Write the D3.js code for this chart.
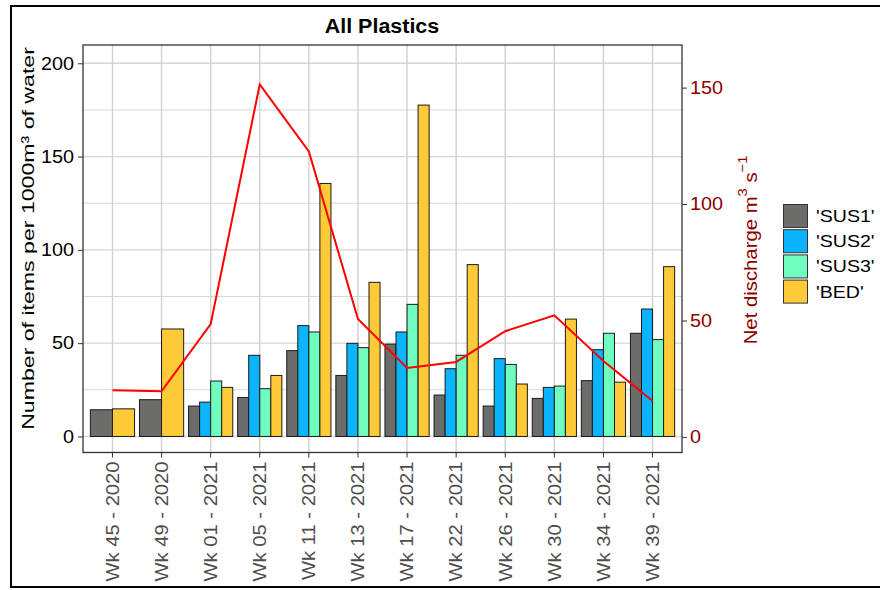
<!DOCTYPE html>
<html>
<head>
<meta charset="utf-8">
<script src="https://cdn.jsdelivr.net/npm/d3@7"></script>
<style>
  body { margin: 0; background: #fff; }
  svg text { font-family: "Liberation Sans", Arial, sans-serif; }
</style>
</head>
<body>
<svg id="chart" width="880" height="590"></svg>
<script>
// Sampling weeks
const weeks = ["Wk 45 - 2020", "Wk 49 - 2020", "Wk 01 - 2021", "Wk 05 - 2021", "Wk 11 - 2021",
  "Wk 13 - 2021", "Wk 17 - 2021", "Wk 22 - 2021", "Wk 26 - 2021", "Wk 30 - 2021",
  "Wk 34 - 2021", "Wk 39 - 2021"];

// Items per 1000 m3 of water at each sampling depth (null = not sampled)
const sus1 = [14.3, 19.7, 16.3, 20.9, 46.0, 32.7, 49.5, 22.2, 16.3, 20.4, 29.9, 55.3];
const sus2 = [null, null, 18.4, 43.5, 59.4, 49.9, 56.0, 36.3, 41.7, 26.3, 46.5, 68.3];
const sus3 = [null, null, 29.7, 25.6, 56.0, 47.6, 70.8, 43.5, 38.6, 27.0, 55.3, 51.9];
const bed  = [14.8, 57.6, 26.3, 32.7, 135.6, 82.6, 177.6, 92.1, 28.1, 62.9, 29.1, 91.0];

// Net discharge, m3/s
const discharge = [20.0, 19.6, 48.4, 151.4, 122.6, 50.6, 29.6, 32.2, 45.4, 52.2, 32.6, 15.4];

const seriesNames = ["'SUS1'", "'SUS2'", "'SUS3'", "'BED'"];
const seriesValues = [sus1, sus2, sus3, bed];
const seriesColors = ["#6c6c6a", "#0bb4fd", "#70fec0", "#ffca38"];

const leftTicks = [0, 50, 100, 150, 200];
const leftMinor = [25, 75, 125, 175];
const rightTicks = [0, 50, 100, 150];

// widen glyphs of plain text elements by factor k (keeps the anchor in place)
function widen(sel, k) {
  sel.each(function () {
    const w = this.getComputedTextLength();
    this.setAttribute("textLength", (w * k).toFixed(2));
    this.setAttribute("lengthAdjust", "spacingAndGlyphs");
  });
}

const svg = d3.select("#chart");
svg.append("rect").attr("width", 880).attr("height", 590).attr("fill", "#fff");

// outer frame
svg.append("rect")
  .attr("x", 11).attr("y", 6).attr("width", 880).attr("height", 581)
  .attr("fill", "none").attr("stroke", "#000").attr("stroke-width", 2);

const panel = { left: 83, right: 682, top: 45, bottom: 452.5 };

const x = d3.scaleBand().domain(weeks)
  .range([panel.left, panel.right]).paddingInner(0).paddingOuter(0.1);
const yL = d3.scaleLinear().domain([-8.6, 209.8]).range([panel.bottom, panel.top]);
const yR = d3.scaleLinear().domain([-6.7, 168.3]).range([panel.bottom, panel.top]);

const g = svg.append("g");

// grid
g.selectAll(".minor").data(leftMinor).join("line")
  .attr("x1", panel.left).attr("x2", panel.right)
  .attr("y1", d => yL(d)).attr("y2", d => yL(d))
  .attr("stroke", "#d2d2d2").attr("stroke-width", 0.9);
g.selectAll(".major").data(leftTicks).join("line")
  .attr("x1", panel.left).attr("x2", panel.right)
  .attr("y1", d => yL(d)).attr("y2", d => yL(d))
  .attr("stroke", "#d6d6d6").attr("stroke-width", 1.4);
g.selectAll(".vgrid").data(weeks).join("line")
  .attr("x1", d => x(d) + x.bandwidth() / 2).attr("x2", d => x(d) + x.bandwidth() / 2)
  .attr("y1", panel.top).attr("y2", panel.bottom)
  .attr("stroke", "#d0d0d0").attr("stroke-width", 1.4);

// dodged bars; width shared among the depths sampled that week
const groupW = x.bandwidth() * 0.9;
weeks.forEach((wk, i) => {
  const present = seriesValues.map((vals, s) => ({ s, v: vals[i] })).filter(d => d.v != null);
  const inner = d3.scaleBand().domain(present.map(d => d.s))
    .range([x(wk) + (x.bandwidth() - groupW) / 2, x(wk) + (x.bandwidth() + groupW) / 2]);
  g.selectAll(null).data(present).join("rect")
    .attr("x", d => inner(d.s))
    .attr("width", inner.bandwidth())
    .attr("y", d => yL(d.v))
    .attr("height", d => yL(0) - yL(d.v))
    .attr("fill", d => seriesColors[d.s])
    .attr("stroke", "#1a1a1a").attr("stroke-width", 1);
});

// discharge line
const line = d3.line()
  .x((d, i) => x(weeks[i]) + x.bandwidth() / 2)
  .y(d => yR(d));
g.append("path").datum(discharge)
  .attr("d", line).attr("fill", "none")
  .attr("stroke", "#ff0000").attr("stroke-width", 2);

// panel border
svg.append("rect")
  .attr("x", panel.left).attr("y", panel.top)
  .attr("width", panel.right - panel.left).attr("height", panel.bottom - panel.top)
  .attr("fill", "none").attr("stroke", "#333").attr("stroke-width", 1.3);

// left axis
const axL = svg.append("g").attr("transform", `translate(${panel.left},0)`)
  .call(d3.axisLeft(yL).tickValues(leftTicks).tickSize(5).tickPadding(4));
axL.select(".domain").remove();
axL.selectAll(".tick line").attr("stroke", "#333");
axL.selectAll(".tick text").attr("fill", "#000").style("font-size", "18px")
  .style("font-family", "'Liberation Sans', Arial, sans-serif");
widen(axL.selectAll(".tick text"), 1.1);

// right axis
const axR = svg.append("g").attr("transform", `translate(${panel.right},0)`)
  .call(d3.axisRight(yR).tickValues(rightTicks).tickSize(5).tickPadding(3));
axR.select(".domain").remove();
axR.selectAll(".tick line").attr("stroke", "#333");
axR.selectAll(".tick text").attr("fill", "#8b0000").style("font-size", "18px")
  .style("font-family", "'Liberation Sans', Arial, sans-serif");
widen(axR.selectAll(".tick text"), 1.1);

// bottom axis
const axB = svg.append("g").attr("transform", `translate(0,${panel.bottom})`)
  .call(d3.axisBottom(x).tickSize(5).tickPadding(4));
axB.select(".domain").remove();
axB.selectAll(".tick line").attr("stroke", "#333");
axB.selectAll(".tick text")
  .attr("fill", "#4d4d4d").style("font-size", "18px")
  .style("font-family", "'Liberation Sans', Arial, sans-serif")
  .attr("text-anchor", "end")
  .attr("transform", "rotate(-90)")
  .attr("x", -9).attr("y", 0).attr("dy", "0.35em");
widen(axB.selectAll(".tick text"), 1.12);

// title
const title = svg.append("text").attr("x", 382).attr("y", 33)
  .attr("text-anchor", "middle").style("font-size", "19.5px").style("font-weight", "bold")
  .text("All Plastics");
widen(title, 1.1);

// left axis title
const lt = svg.append("text")
  .attr("transform", `translate(34,238.5) rotate(-90) scale(1.36,1)`)
  .attr("text-anchor", "middle").style("font-size", "17px").attr("fill", "#000");
lt.append("tspan").text("Number of items per 1000m");
lt.append("tspan").text("³");
lt.append("tspan").text(" of water");

// right axis title
const rt = svg.append("text")
  .attr("transform", `translate(757,250) rotate(-90) scale(1.13,1)`)
  .attr("text-anchor", "middle").style("font-size", "18px").attr("fill", "#8b0000");
rt.append("tspan").text("Net discharge  m");
rt.append("tspan").attr("dy", -10).style("font-size", "13px").text("3");
rt.append("tspan").attr("dy", 10).text(" s");
rt.append("tspan").attr("dy", -10).style("font-size", "13px").text("\u22121");

// legend
const lg = svg.append("g").attr("transform", "translate(783,204)");
seriesNames.forEach((name, i) => {
  lg.append("rect").attr("x", 0.5).attr("y", i * 25.2 + 0.5)
    .attr("width", 24).attr("height", 23)
    .attr("fill", seriesColors[i]).attr("stroke", "#333").attr("stroke-width", 1);
  const t = lg.append("text").attr("x", 33).attr("y", i * 25.2 + 12).attr("dy", "0.35em")
    .style("font-size", "17px").attr("fill", "#000").text(name);
  widen(t, 1.15);
});
</script>
</body>
</html>
